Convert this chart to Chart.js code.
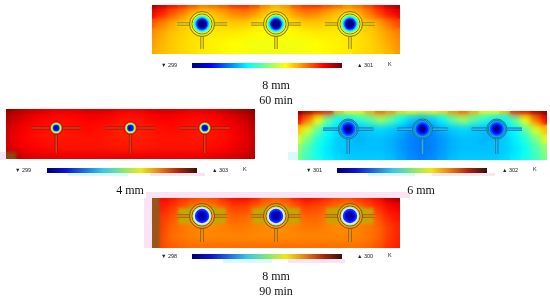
<!DOCTYPE html>
<html>
<head>
<meta charset="utf-8">
<script src="https://cdn.jsdelivr.net/npm/chart.js@4/dist/chart.umd.min.js"></script>
<style>
html, body { margin: 0; padding: 0; background: #fff; overflow: hidden; }
#page { position: relative; width: 550px; height: 298px; overflow: hidden; }
canvas { position: absolute; }
.tag { position: absolute; }
.cap { position: absolute; width: 80px; text-align: center; font: 12px "Liberation Serif", serif; color: #111; }
.lim { position: absolute; font: 5.5px "Liberation Sans", sans-serif; color: #222; white-space: nowrap; }
</style>
</head>
<body>
<div id="page"></div>
<script>
// temperatures in K, 25 columns x 6 rows
var temps60min = [
  [300.47,300.42,300.33,300.28,300.22,300.16,300.18,300.22,300.27,300.28,300.24,300.14,300.08,300.12,300.22,300.27,300.28,300.24,300.2,300.14,300.18,300.24,300.32,300.42,300.47],
  [300.35,300.28,300.2,300.14,300.06,300.02,300.04,300.08,300.12,300.14,300.1,300.04,300.0,300.04,300.1,300.14,300.12,300.08,300.04,300.02,300.06,300.14,300.22,300.3,300.36],
  [300.2,300.14,300.08,300.03,300.0,299.98,300.0,300.02,300.03,300.03,300.0,299.97,299.96,299.97,300.0,300.03,300.03,300.02,300.0,299.98,300.0,300.04,300.08,300.16,300.22],
  [300.12,300.08,300.04,300.02,300.0,299.98,299.98,299.98,299.98,299.97,299.96,299.95,299.95,299.95,299.96,299.97,299.98,299.98,299.98,299.98,300.0,300.02,300.05,300.1,300.14],
  [300.1,300.06,300.03,300.01,299.99,299.98,299.97,299.96,299.95,299.94,299.93,299.93,299.93,299.93,299.93,299.94,299.95,299.96,299.97,299.98,299.99,300.01,300.04,300.08,300.12],
  [300.08,300.05,300.03,300.01,300.0,299.98,299.97,299.96,299.95,299.94,299.93,299.93,299.93,299.93,299.93,299.94,299.95,299.96,299.97,299.98,300.0,300.01,300.03,300.06,300.1]
];
var temps4mm = [
  [303.05,302.95,302.88,302.82,302.78,302.72,302.72,302.76,302.8,302.8,302.76,302.7,302.68,302.7,302.76,302.8,302.8,302.76,302.72,302.72,302.78,302.84,302.9,302.98,303.05],
  [302.9,302.78,302.7,302.64,302.6,302.58,302.58,302.6,302.62,302.62,302.6,302.56,302.55,302.56,302.6,302.62,302.62,302.6,302.58,302.58,302.6,302.66,302.72,302.8,302.92],
  [302.82,302.7,302.62,302.58,302.55,302.52,302.54,302.56,302.58,302.56,302.54,302.5,302.48,302.5,302.54,302.56,302.58,302.56,302.54,302.52,302.55,302.58,302.64,302.72,302.84],
  [302.78,302.66,302.6,302.56,302.54,302.53,302.53,302.54,302.54,302.54,302.52,302.5,302.5,302.5,302.52,302.54,302.54,302.54,302.53,302.53,302.54,302.56,302.62,302.68,302.8],
  [302.8,302.7,302.64,302.6,302.58,302.56,302.55,302.55,302.55,302.55,302.54,302.53,302.53,302.53,302.54,302.55,302.55,302.55,302.55,302.56,302.58,302.6,302.66,302.72,302.82],
  [302.98,302.9,302.76,302.74,302.72,302.7,302.7,302.7,302.7,302.7,302.7,302.7,302.7,302.7,302.7,302.7,302.7,302.7,302.7,302.7,302.72,302.74,302.76,302.8,302.88]
];
var temps6mm = [
  [301.52,301.5,301.44,301.4,301.26,301.2,301.22,301.28,301.34,301.3,301.24,301.2,301.18,301.2,301.24,301.3,301.34,301.28,301.22,301.2,301.26,301.4,301.44,301.5,301.52],
  [301.42,301.32,301.2,301.08,301.0,300.99,301.03,301.07,301.13,301.08,301.0,300.96,300.94,300.96,301.0,301.08,301.13,301.07,301.03,300.99,301.0,301.08,301.2,301.32,301.42],
  [301.26,301.18,301.08,301.0,300.97,300.95,300.95,300.96,300.97,300.96,300.94,300.91,300.9,300.91,300.94,300.96,300.97,300.96,300.95,300.95,300.97,301.0,301.08,301.18,301.26],
  [301.18,301.1,301.03,300.99,300.96,300.95,300.94,300.95,300.95,300.94,300.92,300.9,300.89,300.9,300.92,300.94,300.95,300.95,300.94,300.95,300.96,300.99,301.03,301.1,301.18],
  [301.12,301.06,301.01,300.98,300.96,300.95,300.95,300.95,300.95,300.94,300.92,300.9,300.89,300.9,300.92,300.94,300.95,300.95,300.95,300.95,300.96,300.98,301.01,301.06,301.12],
  [301.1,301.05,301.02,300.99,300.97,300.96,300.96,300.96,300.96,300.95,300.93,300.91,300.9,300.91,300.93,300.95,300.96,300.96,300.96,300.96,300.97,300.99,301.02,301.05,301.1]
];
var temps90min = [
  [300.1,300.08,300.04,299.98,299.94,299.9,299.92,300.0,300.06,300.08,300.03,299.92,299.88,299.92,300.03,300.08,300.05,300.0,299.95,299.92,299.98,300.02,300.08,300.22,300.28],
  [300.05,300.02,299.96,299.9,299.84,299.8,299.82,299.88,299.94,299.94,299.88,299.82,299.8,299.82,299.88,299.94,299.92,299.88,299.84,299.8,299.84,299.92,299.98,300.06,300.1],
  [300.02,299.96,299.9,299.84,299.8,299.78,299.8,299.84,299.86,299.86,299.82,299.78,299.76,299.78,299.82,299.86,299.86,299.82,299.8,299.78,299.8,299.84,299.9,300.0,300.04],
  [300.0,299.94,299.86,299.82,299.8,299.78,299.78,299.8,299.82,299.82,299.8,299.78,299.76,299.78,299.8,299.82,299.82,299.8,299.78,299.78,299.8,299.82,299.86,299.95,300.0],
  [299.98,299.92,299.84,299.82,299.8,299.79,299.79,299.79,299.79,299.79,299.78,299.78,299.78,299.78,299.78,299.79,299.79,299.79,299.79,299.79,299.8,299.82,299.86,299.95,300.0],
  [299.98,299.92,299.88,299.86,299.84,299.84,299.84,299.84,299.84,299.84,299.84,299.84,299.84,299.84,299.84,299.84,299.84,299.84,299.84,299.84,299.84,299.86,299.9,299.98,300.02]
];

// coolant tube centres and fin ends, same grid units as the tables above
var tubeX = [4.84, 12, 19.16];
var finReach = 2.42;

// temperature steps from the tube wall to the core, null = pale halo
var coreTemps60min = [299.84, 299.68, 299.56, 299.38, 299.23, 299.11, 299.0];
var coreTemps4mm = [302.4, 301.7, 300.8, 299.9, 299.5];
var coreTemps6mm = [300.93, 300.87, 300.81, 300.76, 300.69];
var coreTemps90min = [299.25, null, 298.55, 298.44, 298.3, 298.19];

var ticks60min = [299, 300];
var ticks4mm = [300, 301, 302, 303];
var ticks6mm = [300.69, 301.52];
var ticks90min = [299, 300];

// rainbow scale of the field and the two tints of the colour bars
var stopPos = [0, 0.125, 0.375, 0.5, 0.625, 0.75, 0.875, 1];
var stopRgb = [[0,0,127],[0,0,255],[0,255,255],[128,255,128],[255,255,0],[255,128,0],[255,0,0],[127,0,0]];
var barBright = [[0,0,127],[0,0,255],[0,255,255],[128,255,128],[255,255,0],[255,128,0],[255,0,0],[110,0,10]];
var barMuted = [[0,0,110],[10,20,210],[60,200,230],[130,230,120],[235,235,20],[230,130,20],[170,40,10],[50,20,10]];

var panels = [
  { temps: temps60min, core: coreTemps60min, ticks: ticks60min, min: 299, max: 300.52,
    box: [152, 5, 248, 49], bar: [192, 63, 150], barRgb: barBright,
    tubeY: 1.94, finEnd: 4.49, coreR: [9.5, 8.5, 7.5, 6.5, 5.5, 4.5, 3.5], ringR: [12.5, 10],
    edge: '#6f6a14', body: '#fbe000', patches: [], halo: [],
    lo: '299', hi: '301', loX: 161, hiX: 357, kX: 388, limY: 62 },
  { temps: temps4mm, core: coreTemps4mm, ticks: ticks4mm, min: 299.36, max: 303.07,
    box: [6, 109, 249, 50], bar: [47, 168, 150], barRgb: barMuted,
    tubeY: 1.9, finEnd: 4.4, coreR: [6, 5.2, 4.2, 3.2, 2], ringR: [6.5],
    edge: '#8a1d10', body: '#f23010',
    patches: [{ xFrom: 0, xTo: 1, y: 4.65, width: 7, color: '#8f4412' }], halo: [],
    lo: '299', hi: '303', loX: 15, hiX: 212, kX: 243, limY: 167 },
  { temps: temps6mm, core: coreTemps6mm, ticks: ticks6mm, min: 300.69, max: 301.52,
    box: [298, 111, 249, 49], bar: [337, 168, 150], barRgb: barMuted,
    tubeY: 1.84, finEnd: 4.4, coreR: [8, 7, 5.5, 4, 2.5], ringR: [10, 8.6],
    edge: '#1b6f92', body: '#1cb4f4', patches: [], halo: [],
    lo: '301', hi: '302', loX: 306, hiX: 502, kX: 533, limY: 167 },
  { temps: temps90min, core: coreTemps90min, ticks: ticks90min, min: 298.15, max: 300.35,
    box: [152, 198, 248, 50], bar: [192, 254, 150], barRgb: barMuted,
    tubeY: 1.8, finEnd: 4.4, coreR: [9.5, 8.7, 7.2, 5.5, 4, 2.5], ringR: [12.5, 10],
    edge: '#7a4a10', body: '#f0a000',
    patches: [{ xFrom: 0, xTo: 0.75, y: 2.5, width: 50, color: '#98561a' }],
    halo: [{ reach: 2.3, shift: 0, width: 16, color: '#c8a400' }, { reach: 1.2, shift: -0.6, width: 6, color: '#80c800' }],
    lo: '298', hi: '300', loX: 161, hiX: 357, kX: 388, limY: 253 }
];

var captions = [['8 mm', 276, 78], ['60 min', 276, 93], ['4 mm', 130, 183], ['6 mm', 421, 183], ['8 mm', 276, 269], ['90 min', 276, 284]];
var tags = [
  [0, 152, 6, 8, '#fbe3f6'], [68, 173, 60, 3, '#d8fafa'], [150, 173, 55, 3, '#fbe3f6'],
  [288, 152, 10, 8, '#d8fafa'], [368, 173, 47, 3, '#d8fafa'], [432, 173, 63, 3, '#fbe3f6'],
  [146, 192, 264, 6, '#fbe3f6'], [144, 198, 8, 50, '#fbe3f6'], [223, 259, 49, 4, '#d8fafa'], [288, 259, 57, 4, '#fbe3f6']
];

var page = document.getElementById('page');

// blur what has been drawn so far, the source picture is soft
var softenPlugin = {
  id: 'soften',
  afterDatasetDraw: function(chart, args) {
    var amount = chart.data.datasets[args.index].soften;
    if (!amount) return;
    var c = chart.ctx;
    c.save();
    c.filter = 'blur(' + amount + 'px)';
    c.drawImage(chart.canvas, 0, 0);
    c.restore();
  }
};

function mix(rgbList, p) {
  p = Math.max(0, Math.min(1, p));
  var i = 0;
  while (i < stopPos.length - 2 && p > stopPos[i + 1]) i++;
  var f = (p - stopPos[i]) / (stopPos[i + 1] - stopPos[i]);
  var a = rgbList[i], b = rgbList[i + 1];
  return 'rgb(' + Math.round(a[0] + (b[0] - a[0]) * f) + ',' + Math.round(a[1] + (b[1] - a[1]) * f) + ',' + Math.round(a[2] + (b[2] - a[2]) * f) + ')';
}

function colorAt(p) {
  return mix(stopRgb, p);
}

function addCanvas(x, y, w, h) {
  var cv = document.createElement('canvas');
  cv.width = w;
  cv.height = h;
  cv.style.left = x + 'px';
  cv.style.top = y + 'px';
  page.appendChild(cv);
  return cv;
}

function addLabel(text, x, y, cls) {
  var d = document.createElement('div');
  d.className = cls;
  d.textContent = text;
  d.style.left = x + 'px';
  d.style.top = y + 'px';
  page.appendChild(d);
}

function makeField(p) {
  var cells = [], cellColors = [];
  p.temps.forEach(function(row, r) {
    row.forEach(function(t, c) {
      cells.push({ x: c, y: r });
      cellColors.push(colorAt((t - p.min) / (p.max - p.min)));
    });
  });

  var tubes = tubeX.map(function(x) { return { x: x, y: p.tubeY }; });
  var fins = [];
  tubeX.forEach(function(x) {
    fins.push({ x: x - finReach, y: p.tubeY }, { x: x + finReach, y: p.tubeY }, { x: null, y: null });
    fins.push({ x: x, y: p.tubeY }, { x: x, y: p.finEnd }, { x: null, y: null });
  });

  var datasets = [{
    data: cells, backgroundColor: cellColors, pointBackgroundColor: cellColors,
    pointStyle: 'rect', pointRadius: 8.5, pointBorderWidth: 0, clip: 0, soften: 3
  }];
  // compression blocks of the source picture, painted over the field
  p.patches.forEach(function(b) {
    datasets.push({ data: [{ x: b.xFrom, y: b.y }, { x: b.xTo, y: b.y }], showLine: true, borderColor: b.color, borderWidth: b.width, pointRadius: 0 });
  });
  p.halo.forEach(function(h) {
    var bits = [];
    tubeX.forEach(function(x) {
      bits.push({ x: x - h.reach, y: p.tubeY + h.shift }, { x: x + h.reach, y: p.tubeY + h.shift }, { x: null, y: null });
    });
    datasets.push({ data: bits, showLine: true, borderColor: h.color, borderWidth: h.width, pointRadius: 0, spanGaps: false });
  });
  if (p.patches.length) datasets[datasets.length - 1].soften = 1.5;

  datasets.push({ data: fins, showLine: true, borderColor: p.edge, borderWidth: 3.2, pointRadius: 0, spanGaps: false });
  datasets.push({ data: fins, showLine: true, borderColor: p.body, borderWidth: 1.7, pointRadius: 0, spanGaps: false });
  p.ringR.forEach(function(rad) {
    datasets.push({ data: tubes, pointRadius: rad, pointBackgroundColor: p.body, pointBorderColor: p.edge, pointBorderWidth: 0.9 });
  });
  p.core.forEach(function(t, i) {
    var col = t === null ? '#f4e2f4' : colorAt((t - p.min) / (p.max - p.min));
    datasets.push({ data: tubes, pointRadius: p.coreR[i], pointBackgroundColor: col, pointBorderWidth: 0, soften: i === p.core.length - 1 ? 0.7 : 0 });
  });
  // chart.js paints the lowest order last
  datasets.forEach(function(d, i) { d.order = datasets.length - i; });

  new Chart(addCanvas(p.box[0], p.box[1], p.box[2], p.box[3]), {
    type: 'scatter',
    data: { datasets: datasets },
    plugins: [softenPlugin],
    options: {
      responsive: false,
      animation: false,
      layout: { padding: 0, autoPadding: false },
      plugins: { legend: { display: false }, tooltip: { enabled: false } },
      scales: {
        x: { type: 'linear', display: false, min: 0, max: 24 },
        y: { type: 'linear', display: false, min: 0, max: 5, reverse: true }
      }
    }
  });
}

function makeBar(p) {
  var pad = 30;
  new Chart(addCanvas(p.bar[0] - pad, p.bar[1], p.bar[2] + pad * 2, 14), {
    type: 'bar',
    data: {
      labels: ['K'],
      datasets: [{
        data: [[p.min, p.max]],
        barPercentage: 1,
        categoryPercentage: 1,
        backgroundColor: function(ctx) {
          var area = ctx.chart.chartArea;
          if (!area) return '#888';
          var g = ctx.chart.ctx.createLinearGradient(area.left, 0, area.right, 0);
          stopPos.forEach(function(s) { g.addColorStop(s, mix(p.barRgb, s)); });
          return g;
        }
      }]
    },
    options: {
      indexAxis: 'y',
      responsive: false,
      animation: false,
      layout: { padding: { left: pad, right: pad, top: 0, bottom: 0 } },
      plugins: { legend: { display: false }, tooltip: { enabled: false } },
      scales: {
        x: {
          type: 'linear',
          min: p.min,
          max: p.max,
          grid: { display: false },
          border: { display: false },
          afterBuildTicks: function(s) { s.ticks = p.ticks.map(function(v) { return { value: v }; }); },
          afterFit: function(s) { s.height = 9; },
          ticks: {
            autoSkip: false, maxRotation: 0, padding: 1, color: '#333',
            font: { size: 5.5, family: '"Liberation Sans", sans-serif' },
            callback: function(v) { return String(v); }
          }
        },
        y: { display: false }
      }
    }
  });
}

tags.forEach(function(t) {
  var d = document.createElement('div');
  d.className = 'tag';
  d.style.cssText = 'left:' + t[0] + 'px;top:' + t[1] + 'px;width:' + t[2] + 'px;height:' + t[3] + 'px;background:' + t[4];
  page.appendChild(d);
});

panels.forEach(function(p) {
  makeField(p);
  makeBar(p);
  addLabel('\u25BC ' + p.lo, p.loX, p.limY, 'lim');
  addLabel('\u25B2 ' + p.hi, p.hiX, p.limY, 'lim');
  addLabel('K', p.kX, p.limY - 1, 'lim');
});

captions.forEach(function(c) {
  addLabel(c[0], c[1] - 40, c[2], 'cap');
});
</script>
</body>
</html>
